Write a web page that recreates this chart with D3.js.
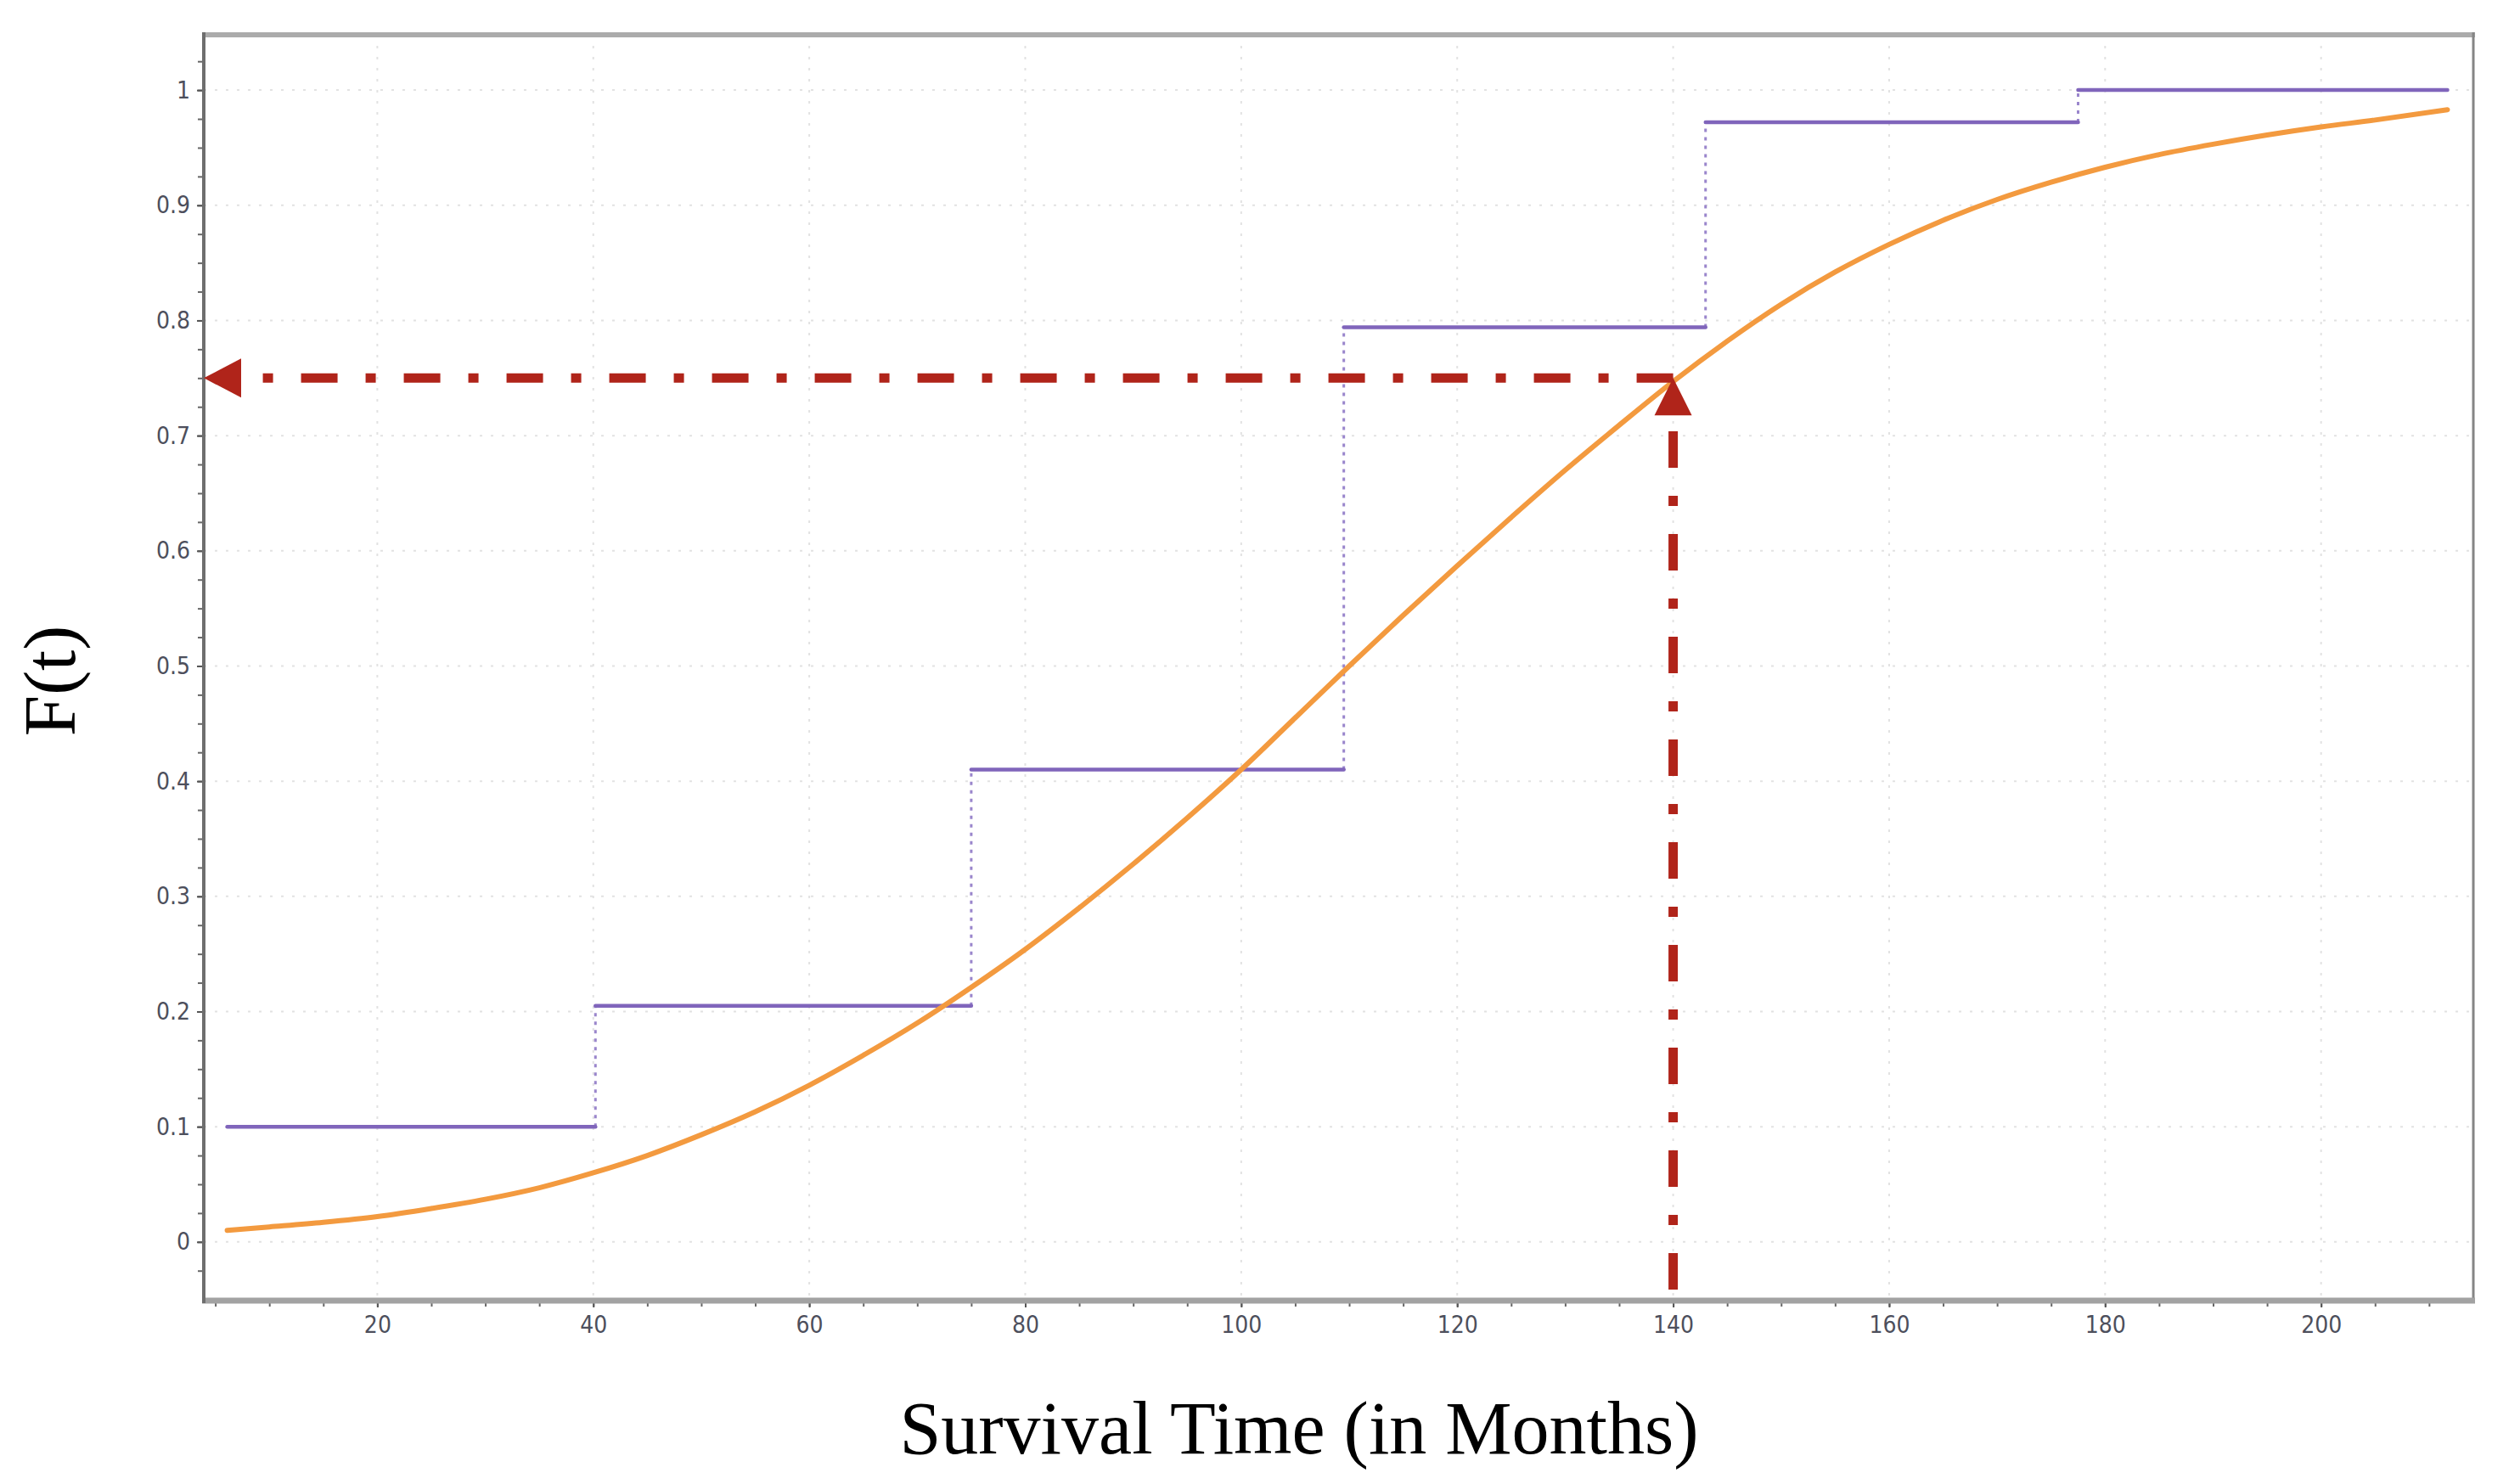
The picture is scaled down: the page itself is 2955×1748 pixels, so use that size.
<!DOCTYPE html>
<html>
<head>
<meta charset="utf-8">
<script src="https://cdn.jsdelivr.net/npm/d3@7"></script>
<style>
  html, body { margin: 0; padding: 0; background: #fff; }
  svg { display: block; }
</style>
</head>
<body>
<div id="container"></div>
<script>
// Chart size and plot frame
const width = 2955;
const height = 1748;
const frameLeft = 240;
const frameRight = 2913;
const frameTop = 41;
const frameBottom = 1532;

// Axis ticks
const xTicks = [20, 40, 60, 80, 100, 120, 140, 160, 180, 200];
const yTicks = [0, 0.1, 0.2, 0.3, 0.4, 0.5, 0.6, 0.7, 0.8, 0.9, 1];
const yTickLabels = ["0", "0.1", "0.2", "0.3", "0.4", "0.5", "0.6", "0.7", "0.8", "0.9", "1"];

// Empirical CDF (steps)
const stepTimes = [6.1, 40.2, 75.0, 109.5, 143.0, 177.5];
const stepValues = [0.1, 0.205, 0.41, 0.794, 0.972, 1.0];
const stepEnd = 211.7;

// Fitted CDF
const curveTimes = [6.1, 10, 15, 20, 25, 30, 35, 40, 45, 50, 55, 60, 65, 70, 75, 80, 85, 90, 95, 100,
    105, 110, 115, 120, 125, 130, 135, 140, 145, 150, 155, 160, 165, 170, 175, 180, 185, 190, 195, 200, 205, 211.7];
const curveValues = [0.010, 0.013, 0.017, 0.022, 0.029, 0.037, 0.047, 0.060, 0.075, 0.093, 0.113, 0.136, 0.162, 0.190, 0.221, 0.254, 0.290, 0.328, 0.368, 0.410,
    0.455, 0.500, 0.544, 0.587, 0.629, 0.670, 0.709, 0.747, 0.782, 0.814, 0.842, 0.866, 0.887, 0.905, 0.920, 0.933, 0.944, 0.953, 0.961, 0.968, 0.974, 0.983];

// Reading of the 0.75 quantile
const targetTime = 140;
const targetProb = 0.75;

const x = d3.scaleLinear()
    .domain([3.93, 214.1])
    .range([frameLeft, frameRight]);

const y = d3.scaleLinear()
    .domain([-0.051, 1.048])
    .range([frameBottom, frameTop]);

const svg = d3.select("#container").append("svg")
    .attr("width", width)
    .attr("height", height)
    .attr("viewBox", [0, 0, width, height]);

const tickFont = "'Liberation Sans Narrow', 'DejaVu Sans Condensed', 'Arial Narrow', sans-serif";

// Grid (dotted)
svg.append("g")
    .selectAll("line.gx")
    .data(xTicks)
    .join("line")
    .attr("x1", d => x(d)).attr("x2", d => x(d))
    .attr("y1", frameTop).attr("y2", frameBottom)
    .attr("stroke", "#e2e2e2")
    .attr("stroke-width", 2)
    .attr("stroke-dasharray", "3,10");

svg.append("g")
    .selectAll("line.gy")
    .data(yTicks)
    .join("line")
    .attr("x1", frameLeft).attr("x2", frameRight)
    .attr("y1", d => y(d)).attr("y2", d => y(d))
    .attr("stroke", "#e2e2e2")
    .attr("stroke-width", 2)
    .attr("stroke-dasharray", "3,10");

// Frame: top and right borders
svg.append("line")
    .attr("x1", frameLeft).attr("x2", frameRight + 2)
    .attr("y1", frameTop).attr("y2", frameTop)
    .attr("stroke", "#ababab").attr("stroke-width", 6);
svg.append("line")
    .attr("x1", frameRight).attr("x2", frameRight)
    .attr("y1", frameTop - 3).attr("y2", frameBottom)
    .attr("stroke", "#858585").attr("stroke-width", 3);

// Minor ticks
const xMinor = d3.range(5, 214, 5);
const yMinor = d3.range(-0.025, 1.04, 0.025);

svg.append("g")
    .attr("transform", `translate(0,${frameBottom})`)
    .call(d3.axisBottom(x).tickValues(xMinor).tickSize(7).tickFormat(""))
    .call(g => g.select(".domain").remove())
    .call(g => g.selectAll(".tick line").attr("stroke", "#666").attr("stroke-width", 2));

svg.append("g")
    .attr("transform", `translate(${frameLeft},0)`)
    .call(d3.axisLeft(y).tickValues(yMinor).tickSize(7).tickFormat(""))
    .call(g => g.select(".domain").remove())
    .call(g => g.selectAll(".tick line").attr("stroke", "#666").attr("stroke-width", 2));

// Major axes
svg.append("g")
    .attr("transform", `translate(0,${frameBottom})`)
    .call(d3.axisBottom(x).tickValues(xTicks).tickSize(8).tickSizeOuter(0).tickPadding(10))
    .call(g => g.select(".domain").remove())
    .call(g => g.selectAll(".tick line").attr("stroke", "#555").attr("stroke-width", 2))
    .call(g => g.selectAll(".tick text")
        .attr("fill", "#4d4f5c")
        .style("font-family", tickFont)
        .style("font-size", "28px"));

svg.append("g")
    .attr("transform", `translate(${frameLeft},0)`)
    .call(d3.axisLeft(y).tickValues(yTicks).tickSize(8).tickSizeOuter(0).tickPadding(8)
        .tickFormat((d, i) => yTickLabels[i]))
    .call(g => g.select(".domain").remove())
    .call(g => g.selectAll(".tick line").attr("stroke", "#555").attr("stroke-width", 2))
    .call(g => g.selectAll(".tick text")
        .attr("fill", "#4d4f5c")
        .style("font-family", tickFont)
        .style("font-size", "28px"));

// Frame: bottom and left axis lines
svg.append("line")
    .attr("x1", frameLeft - 2).attr("x2", frameRight + 2)
    .attr("y1", frameBottom).attr("y2", frameBottom)
    .attr("stroke", "#a2a2a2").attr("stroke-width", 7);
svg.append("line")
    .attr("x1", frameLeft).attr("x2", frameLeft)
    .attr("y1", frameTop - 3).attr("y2", frameBottom + 3)
    .attr("stroke", "#6e6e6e").attr("stroke-width", 4);

// Step function: horizontal runs solid, risers dotted
const runs = stepTimes.map((t, i) => ({
    x0: t,
    x1: i < stepTimes.length - 1 ? stepTimes[i + 1] : stepEnd,
    v: stepValues[i]
}));
const risers = stepTimes.slice(1).map((t, i) => ({ t: t, v0: stepValues[i], v1: stepValues[i + 1] }));

svg.append("g")
    .selectAll("line")
    .data(risers)
    .join("line")
    .attr("x1", d => x(d.t)).attr("x2", d => x(d.t))
    .attr("y1", d => y(d.v0)).attr("y2", d => y(d.v1))
    .attr("stroke", "#9a86cc")
    .attr("stroke-width", 3)
    .attr("stroke-dasharray", "4,6");

svg.append("g")
    .selectAll("line")
    .data(runs)
    .join("line")
    .attr("x1", d => x(d.x0)).attr("x2", d => x(d.x1))
    .attr("y1", d => y(d.v)).attr("y2", d => y(d.v))
    .attr("stroke", "#8065bb")
    .attr("stroke-width", 4.5)
    .attr("stroke-linecap", "round");

// Fitted curve
const curveData = curveTimes.map((t, i) => ({ t: t, v: curveValues[i] }));
const line = d3.line()
    .x(d => x(d.t))
    .y(d => y(d.v))
    .curve(d3.curveMonotoneX);

svg.append("path")
    .datum(curveData)
    .attr("fill", "none")
    .attr("stroke", "#f39a3f")
    .attr("stroke-width", 6)
    .attr("stroke-linecap", "round")
    .attr("d", line);

// Red dash-dot guides with arrow heads
const red = "#b0241a";
const dashDot = "43,33,12,33";
const headLen = 44;
const headHalf = 22;
const tx = x(targetTime);
const ty = y(targetProb);

// vertical, from bottom up to the arrow base
svg.append("line")
    .attr("x1", tx).attr("x2", tx)
    .attr("y1", frameBottom - 13).attr("y2", ty + headLen)
    .attr("stroke", red)
    .attr("stroke-width", 11)
    .attr("stroke-dasharray", dashDot);

svg.append("path")
    .attr("d", `M${tx},${ty} L${tx - headHalf},${ty + headLen} L${tx + headHalf},${ty + headLen} Z`)
    .attr("fill", red);

// horizontal, from the curve leftwards to the axis
const axisX = x.range()[0];
svg.append("line")
    .attr("x1", tx).attr("x2", axisX + headLen)
    .attr("y1", ty).attr("y2", ty)
    .attr("stroke", red)
    .attr("stroke-width", 11)
    .attr("stroke-dasharray", dashDot);

svg.append("path")
    .attr("d", `M${axisX},${ty} L${axisX + headLen},${ty - headHalf - 1} L${axisX + headLen},${ty + headHalf + 1} Z`)
    .attr("fill", red);

// Axis titles
svg.append("text")
    .attr("x", 1530)
    .attr("y", 1712)
    .attr("text-anchor", "middle")
    .attr("fill", "#000")
    .style("font-family", "'Liberation Serif', 'Times New Roman', serif")
    .style("font-size", "88px")
    .text("Survival Time (in Months)");

svg.append("text")
    .attr("transform", "translate(88,802) rotate(-90)")
    .attr("text-anchor", "middle")
    .attr("fill", "#000")
    .style("font-family", "'Liberation Serif', 'Times New Roman', serif")
    .style("font-size", "87px")
    .text("F(t)");
</script>
</body>
</html>
